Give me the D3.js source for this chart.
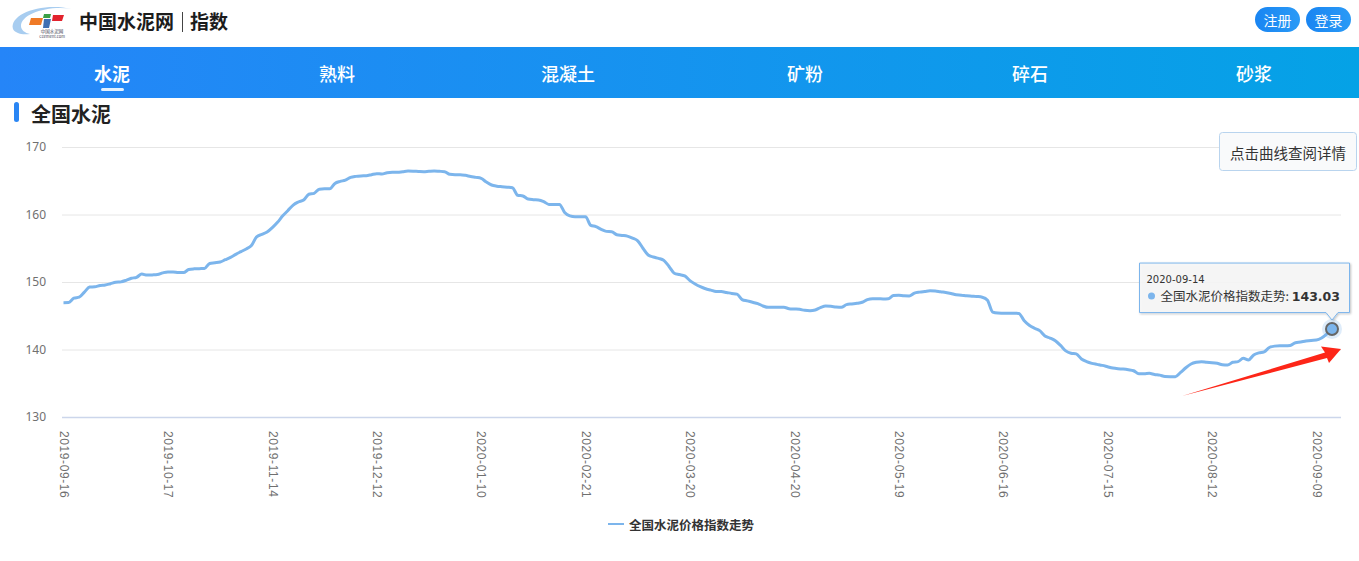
<!DOCTYPE html>
<html>
<head>
<meta charset="utf-8">
<script src="https://cdnjs.cloudflare.com/ajax/libs/d3/7.8.5/d3.min.js"></script>
<style>
  body { margin: 0; background: #fff; font-family: "Noto Sans CJK SC", "Noto Sans", sans-serif; }
  svg { display: block; }
</style>
</head>
<body>
<div id="page"></div>
<script>
// nav categories
var navItems = ["水泥", "熟料", "混凝土", "矿粉", "碎石", "砂浆"];
var navX = [112, 337, 568, 805, 1030, 1254];

// tick labels shown on the x axis (every 20th point)
var tickLabels = ["2019-09-16", "2019-10-17", "2019-11-14", "2019-12-12", "2020-01-10",
  "2020-02-21", "2020-03-20", "2020-04-20", "2020-05-19", "2020-06-16",
  "2020-07-15", "2020-08-12", "2020-09-09"];
var lastDate = "2020-09-14";
var yTicks = [130, 140, 150, 160, 170];
var seriesName = "全国水泥价格指数走势";

// index values, one per trading day
var values = [
  146.93, 146.96, 147.6, 147.75, 148.5, 149.25, 149.3, 149.48, 149.56, 149.75,
  149.95, 150.02, 150.25, 150.55, 150.7, 151.18, 151.02, 151.05, 151.1, 151.35,
  151.5, 151.5, 151.4, 151.4, 151.85, 151.95, 151.98, 152.0, 152.75, 152.85,
  152.96, 153.3, 153.65, 154.1, 154.5, 154.9, 155.4, 156.7, 157.05, 157.4,
  158.05, 158.85, 159.8, 160.6, 161.4, 161.85, 162.15, 163.0, 163.14, 163.75,
  163.8, 163.8, 164.6, 164.9, 165.1, 165.5, 165.65, 165.72, 165.75, 165.9,
  166.05, 166.0, 166.2, 166.25, 166.25, 166.35, 166.44, 166.42, 166.38, 166.35,
  166.4, 166.44, 166.4, 166.35, 165.95, 165.9, 165.9, 165.8, 165.62, 165.5,
  165.36, 164.8, 164.37, 164.2, 164.12, 164.05, 163.97, 162.85, 162.75, 162.3,
  162.2, 162.15, 161.9, 161.5, 161.5, 161.5, 160.3, 159.8, 159.67, 159.67,
  159.67, 158.4, 158.2, 157.8, 157.5, 157.45, 157.0, 156.9, 156.8, 156.5,
  156.1, 155.0, 154.0, 153.7, 153.5, 153.2, 152.3, 151.3, 151.1, 150.9,
  150.2, 149.7, 149.3, 149.0, 148.8, 148.6, 148.58, 148.45, 148.3, 148.2,
  147.4, 147.2, 147.0, 146.8, 146.45, 146.25, 146.25, 146.25, 146.25, 146.05,
  146.0, 145.95, 145.8, 145.75, 145.85, 146.2, 146.44, 146.4, 146.3, 146.25,
  146.65, 146.75, 146.84, 147.0, 147.4, 147.53, 147.53, 147.5, 147.53, 148.0,
  148.05, 147.95, 147.93, 148.35, 148.5, 148.6, 148.7, 148.68, 148.55, 148.45,
  148.3, 148.1, 148.05, 147.95, 147.9, 147.85, 147.75, 147.3, 145.55, 145.4,
  145.38, 145.36, 145.36, 145.35, 144.3, 143.6, 143.15, 142.8, 142.0, 141.7,
  141.3, 140.6, 139.8, 139.45, 139.35, 138.6, 138.2, 137.95, 137.8, 137.65,
  137.45, 137.25, 137.15, 137.1, 137.0, 136.85, 136.4, 136.4, 136.47, 136.3,
  136.2, 136.0, 135.98, 135.98, 136.6, 137.3, 137.85, 138.1, 138.2, 138.1,
  138.05, 137.95, 137.75, 137.7, 138.1, 138.2, 138.7, 138.45, 139.2, 139.5,
  139.65, 140.3, 140.5, 140.55, 140.55, 140.6, 141.0, 141.1, 141.25, 141.35,
  141.4, 141.7, 142.3, 143.03
];

var W = 1359, H = 561;
var plot = { left: 62, right: 1341, top: 147, bottom: 417 };
var lineColor = "#7cb5ec";

var svg = d3.select("#page").append("svg")
  .attr("width", W)
  .attr("height", H);

var defs = svg.append("defs");
var navGrad = defs.append("linearGradient").attr("id", "navGrad");
navGrad.append("stop").attr("offset", "0%").attr("stop-color", "#2585f8");
navGrad.append("stop").attr("offset", "100%").attr("stop-color", "#05a2e6");
var btnGrad = defs.append("linearGradient").attr("id", "btnGrad");
btnGrad.append("stop").attr("offset", "0%").attr("stop-color", "#1985f2");
btnGrad.append("stop").attr("offset", "100%").attr("stop-color", "#2a9af6");
var shadow = defs.append("filter").attr("id", "shadow").attr("x", "-10%").attr("y", "-20%").attr("width", "130%").attr("height", "160%");
shadow.append("feDropShadow").attr("dx", 1).attr("dy", 1).attr("stdDeviation", 1.2).attr("flood-opacity", 0.25);

// ---- header ----
var header = svg.append("g");
// logo swoosh
header.append("path")
  .attr("d", "M13,29 C9,14 42,2 72,9 C48,5 21,14 21,26 C21,30 25,33 30,34 C21,35 15,33 13,29 Z")
  .attr("fill", "#a8cdf0");
header.append("path").attr("d", "M31,18 L43,18 L41,25 L29,25 Z").attr("fill", "#ef7a26");
header.append("path").attr("d", "M44,14 L51,14 L50,18 L43,18 Z").attr("fill", "#3aa046");
header.append("path").attr("d", "M44,19 L51,19 L49,28 L43,28 Z").attr("fill", "#3f6fb2");
header.append("path").attr("d", "M53,15 L64,15 L62,21 L52,21 Z").attr("fill", "#e2232d");
header.append("text").attr("x", 52).attr("y", 33).attr("text-anchor", "middle")
  .attr("font-size", 4.5).attr("fill", "#445").text("中国水泥网");
header.append("text").attr("x", 52).attr("y", 38).attr("text-anchor", "middle")
  .attr("font-size", 4).attr("fill", "#445").text("Ccement.com");

header.append("text").attr("x", 79).attr("y", 29)
  .attr("font-size", 19).attr("font-weight", "bold").attr("fill", "#1c1c1c").text("中国水泥网");
header.append("line").attr("x1", 182.5).attr("x2", 182.5).attr("y1", 12).attr("y2", 32)
  .attr("stroke", "#444").attr("stroke-width", 1);
header.append("text").attr("x", 190).attr("y", 29)
  .attr("font-size", 19).attr("font-weight", "bold").attr("fill", "#1c1c1c").text("指数");

[["注册", 1255], ["登录", 1306]].forEach(function (b) {
  header.append("rect").attr("x", b[1]).attr("y", 7).attr("width", 45).attr("height", 25)
    .attr("rx", 12.5).attr("fill", "url(#btnGrad)");
  header.append("text").attr("x", b[1] + 22.5).attr("y", 20).attr("text-anchor", "middle")
    .attr("dominant-baseline", "central").attr("font-size", 14).attr("fill", "#fff").text(b[0]);
});

// ---- nav bar ----
svg.append("rect").attr("x", 0).attr("y", 47).attr("width", W).attr("height", 51).attr("fill", "url(#navGrad)");
svg.selectAll(".nav")
  .data(navItems)
  .enter()
  .append("text")
  .attr("x", (d, i) => navX[i])
  .attr("y", 73)
  .attr("text-anchor", "middle")
  .attr("dominant-baseline", "central")
  .attr("font-size", 18)
  .attr("font-weight", (d, i) => i === 0 ? "bold" : 500)
  .attr("fill", "#fff")
  .text(d => d);
svg.append("rect").attr("x", 101).attr("y", 88).attr("width", 23).attr("height", 3)
  .attr("rx", 1.5).attr("fill", "#e3f1ff");

// ---- section title ----
svg.append("rect").attr("x", 14).attr("y", 102).attr("width", 5).attr("height", 20)
  .attr("rx", 2.5).attr("fill", "#2a86f4");
svg.append("text").attr("x", 31).attr("y", 113).attr("dominant-baseline", "central")
  .attr("font-size", 20).attr("font-weight", "bold").attr("fill", "#222").text("全国水泥");

// ---- chart ----
var xScale = d3.scaleLinear()
  .domain([0, values.length - 1])
  .range([plot.left + 1.5, 1332]);
var yScale = d3.scaleLinear()
  .domain([130, 170])
  .range([plot.bottom, plot.top]);

var chart = svg.append("g");

var yAxis = chart.append("g")
  .attr("transform", `translate(${plot.left}, 0)`)
  .call(d3.axisLeft(yScale).tickValues(yTicks).tickSize(-(plot.right - plot.left)).tickPadding(16));
yAxis.select(".domain").remove();
yAxis.selectAll(".tick line")
  .attr("stroke", d => d === 130 ? "#ccd6eb" : "#e6e6e6")
  .attr("stroke-width", d => d === 130 ? 1.5 : 1);
yAxis.selectAll(".tick text")
  .attr("font-family", "'Noto Sans', sans-serif")
  .attr("font-size", 12)
  .attr("fill", "#707070");

var tickIdx = tickLabels.map((d, i) => i * 20);
var xAxis = chart.append("g")
  .attr("transform", `translate(0, ${plot.bottom})`)
  .call(d3.axisBottom(xScale).tickValues(tickIdx).tickFormat((d, i) => tickLabels[i]).tickSize(0));
xAxis.select(".domain").remove();
xAxis.selectAll(".tick text")
  .attr("font-family", "'Liberation Sans', sans-serif")
  .attr("font-size", 12)
  .attr("fill", "#707070")
  .attr("text-anchor", "start")
  .attr("transform", "rotate(90)")
  .attr("x", 14)
  .attr("y", 0)
  .attr("dy", "0.35em")
  .attr("letter-spacing", 0.6);

var line = d3.line()
  .x((d, i) => xScale(i))
  .y(d => yScale(d))
  .curve(d3.curveMonotoneX);

chart.append("path")
  .datum(values)
  .attr("fill", "none")
  .attr("stroke", lineColor)
  .attr("stroke-width", 3)
  .attr("stroke-linejoin", "round")
  .attr("d", line);

// hovered point
var lastI = values.length - 1;
var px = xScale(lastI), py = yScale(values[lastI]);
chart.append("circle").attr("cx", px).attr("cy", py).attr("r", 10)
  .attr("fill", lineColor).attr("opacity", 0.25);
chart.append("circle").attr("cx", px).attr("cy", py).attr("r", 6)
  .attr("fill", lineColor).attr("stroke", "#666").attr("stroke-width", 2);

// red arrow annotation pointing at the latest value
var ax = px + 9, ay = py + 20;
chart.append("path")
  .attr("d", `M${ax - 159},${ay + 47} L${ax - 16},${ay + 3.5} L${ax - 20},${ay - 2.5} L${ax},${ay} L${ax - 12},${ay + 14} L${ax - 14},${ay + 9} Z`)
  .attr("fill", "#fd2618");

// tooltip
var tip = chart.append("g");
var tl = 1139.5, tr = 1349.5, tt = py - 66, tb = py - 16.5;
tip.append("path")
  .attr("d", `M${tl},${tt} H${tr} V${tb} H${px + 6} L${px},${tb + 7.5} L${px - 6},${tb} H${tl} Z`)
  .attr("fill", "rgba(247,247,247,0.9)")
  .attr("stroke", lineColor)
  .attr("stroke-width", 1)
  .attr("filter", "url(#shadow)");
tip.append("text").attr("x", tl + 7).attr("y", tt + 20)
  .attr("font-family", "'DejaVu Sans', sans-serif")
  .attr("font-size", 10).attr("fill", "#333").text(lastDate);
tip.append("circle").attr("cx", tl + 12).attr("cy", tt + 33).attr("r", 3.5).attr("fill", lineColor);
var tipText = tip.append("text").attr("x", tl + 21).attr("y", tt + 37.5)
  .attr("font-size", 12.5).attr("fill", "#333");
tipText.append("tspan").text(seriesName + ": ");
tipText.append("tspan").attr("font-weight", "bold")
  .attr("font-family", "'DejaVu Sans', sans-serif").text(values[lastI].toFixed(2));

// hint box
svg.append("rect").attr("x", 1219.5).attr("y", 132.5).attr("width", 137).attr("height", 38)
  .attr("rx", 3).attr("fill", "#f9fafb").attr("stroke", "#b9d4ee");
svg.append("text").attr("x", 1288).attr("y", 152).attr("text-anchor", "middle")
  .attr("dominant-baseline", "central").attr("font-size", 14.5).attr("fill", "#333").text("点击曲线查阅详情");

// legend
var legend = svg.append("g");
legend.append("line").attr("x1", 608).attr("x2", 624).attr("y1", 524).attr("y2", 524)
  .attr("stroke", lineColor).attr("stroke-width", 2);
legend.append("text").attr("x", 629).attr("y", 524).attr("dominant-baseline", "central")
  .attr("font-size", 12.5).attr("font-weight", "bold").attr("fill", "#333").text(seriesName);
</script>
</body>
</html>
